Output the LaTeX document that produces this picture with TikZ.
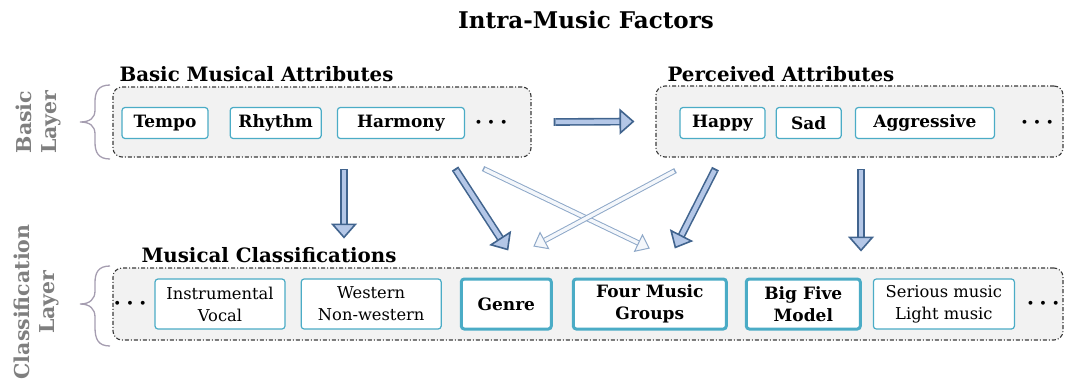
\documentclass[tikz,border=0pt]{standalone}
\usepackage{fontspec}
\setmainfont{DejaVu Serif}
\usepackage{tikz}
\usetikzlibrary{arrows.meta,positioning,calc}
\definecolor{boxline}{HTML}{4BACC6}
\definecolor{groupfill}{HTML}{F2F2F2}
\definecolor{groupline}{HTML}{3A3A3A}
\definecolor{arrowdark}{HTML}{41648E}
\definecolor{arrowfill}{HTML}{B4C7E7}
\definecolor{arrowlight}{HTML}{8EA8C8}
\definecolor{arrowpale}{HTML}{F4F7FB}
\definecolor{bracecol}{HTML}{A59DB0}
\definecolor{labelgray}{HTML}{7F7F7F}
\newcommand{\moredots}{{\fontsize{24}{24}\selectfont\boldmath$\cdots$}}

\begin{document}
\begin{tikzpicture}[x=1pt, y=-1pt,
    group/.style={draw=groupline, fill=groupfill, rounded corners=9pt, line width=1.1pt,
                dash pattern=on 4pt off 2pt on 1pt off 2pt},
    attr/.style={draw=boxline, fill=white, rounded corners=3pt, line width=1.2pt,
                minimum height=31pt, inner sep=0pt, font=\fontsize{17}{19}\selectfont\bfseries},
    cls/.style={attr, minimum height=50pt, align=center, font=\fontsize{16.3}{22}\selectfont},
    clsbold/.style={cls, line width=3pt, font=\fontsize{17}{22}\selectfont\bfseries},
    head/.style={font=\fontsize{19.8}{22}\selectfont\bfseries},
    layer/.style={rotate=90, align=center, text=labelgray, font=\fontsize{20.5}{25}\selectfont\bfseries},
    bigarrow/.style={draw=arrowdark, line width=1.6pt, double=arrowfill, double distance=4.5pt,
                {Rectangle[length=1.8pt, width=7.7pt, fill=arrowdark, line width=0pt]}-{Triangle[length=15pt, width=26pt, fill=arrowfill, line width=1.6pt]}},
    thinarrow/.style={draw=arrowlight, line width=1pt, double=arrowpale, double distance=3.5pt,
                {Rectangle[length=1.4pt, width=5.5pt, fill=arrowlight, line width=0pt]}-{Triangle[length=13pt, width=20pt, fill=arrowpale, line width=1pt]}},
    brace/.style={draw=bracecol, line width=1.3pt}]
  \useasboundingbox (0,0) rectangle (1071,380);

  % title
  \node[font=\fontsize{23}{26}\selectfont\bfseries] (title) at (586,20) {Intra-Music Factors};

  % basic layer
  \node[group, minimum width=418pt, minimum height=70pt] (basic) at (322,122) {};
  \node[head, anchor=base west] (basichead) at (116,81) {Basic Musical Attributes};
  \node[attr, minimum width=86pt] (tempo) at (165,123) {Tempo};
  \node[attr, minimum width=91pt, right=21pt of tempo] (rhythm) {Rhythm};
  \node[attr, minimum width=127pt, right=15pt of rhythm] (harmony) {Harmony};
  \node[right=6pt of harmony] (dotsa) {\moredots};

  \node[group, minimum width=407pt, minimum height=71pt] (perceived) at (859.5,121.5) {};
  \node[head, anchor=base west] (perchead) at (664,81) {Perceived Attributes};
  \node[attr, minimum width=85pt] (happy) at (722.5,123) {Happy};
  \node[attr, minimum width=65pt, right=10pt of happy] (sad) {Sad};
  \node[attr, minimum width=139pt, right=13pt of sad] (aggressive) {Aggressive};
  \node[right=22pt of aggressive] (dotsb) {\moredots};

  % classification layer
  \node[group, minimum width=950pt, minimum height=72pt] (classes) at (588,304) {};
  \node[head, anchor=base west] (clshead) at (138,262) {Musical Classifications};
  \node[cls, minimum width=130pt] (instr) at (220,304) {Instrumental\\Vocal};
  \node[cls, minimum width=140pt, right=15pt of instr] (western) {Western\\Non-western};
  \node[clsbold, minimum width=90pt, right=18pt of western] (genre) {Genre};
  \node[clsbold, minimum width=153pt, right=19pt of genre] (fourmg) {Four Music\\Groups};
  \node[clsbold, minimum width=114pt, right=17pt of fourmg] (bigfive) {Big Five\\Model};
  \node[cls, minimum width=141pt, right=11pt of bigfive] (serious) {Serious music\\Light music};
  \node[left=4pt of instr] (dotsc) {\moredots};
  \node[right=8pt of serious] (dotsd) {\moredots};

  % layer labels and braces
  \node[layer] (basiclayer) at (38,122) {Basic\\Layer};
  \node[layer] (clslayer) at (36,302) {Classification\\Layer};
  \draw[brace] (110,85) .. controls (98,85) and (95,92) .. (95,102) -- (95,110)
    .. controls (95,118) and (90,122) .. (80,122) .. controls (90,122) and (95,126) .. (95,134)
    -- (95,142) .. controls (95,152) and (98,159) .. (110,159);
  \draw[brace] (110,266) .. controls (98,266) and (95,273) .. (95,283) -- (95,291)
    .. controls (95,299) and (90,304) .. (80,304) .. controls (90,304) and (95,309) .. (95,317)
    -- (95,327) .. controls (95,339) and (98,346) .. (110,346);

  % arrows
  \draw[bigarrow] ([xshift=22pt]basic.east) -- ([xshift=-21pt]perceived.west);
  \draw[bigarrow] ([xshift=22pt,yshift=-11pt]basic.south) -- ([xshift=22pt,yshift=-81pt]basic.south);
  \draw[bigarrow] ([xshift=133pt,yshift=-11pt]basic.south) -- ([xshift=2pt,yshift=27pt]genre.north);
  \draw[thinarrow] ([xshift=161pt,yshift=-11pt]basic.south) -- ([xshift=0pt,yshift=29pt]fourmg.north);
  \draw[thinarrow] ([xshift=-184pt,yshift=-13pt]perceived.south) -- ([xshift=27pt,yshift=31pt]genre.north);
  \draw[bigarrow] ([xshift=-144pt,yshift=-11pt]perceived.south) -- ([xshift=25pt,yshift=29pt]fourmg.north);
  \draw[bigarrow] ([xshift=1.5pt,yshift=-11pt]perceived.south) -- ([xshift=1.5pt,yshift=-94pt]perceived.south);
\end{tikzpicture}
\end{document}
